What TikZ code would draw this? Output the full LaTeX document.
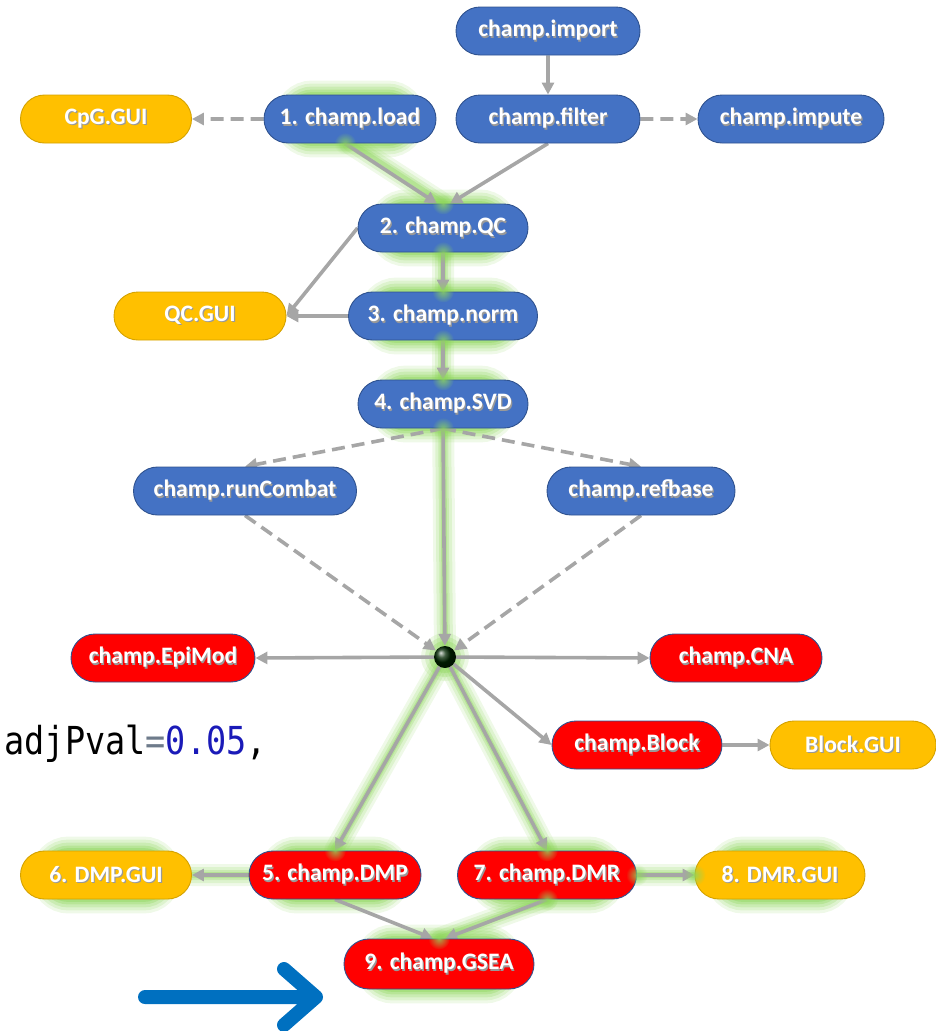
\documentclass[tikz,border=0pt]{standalone}
\usepackage{fontspec}
\setmainfont{Carlito}
\newfontfamily\codefont{DejaVu Sans Mono}
\usetikzlibrary{arrows.meta,shapes.misc,fadings}

\definecolor{nodeblue}{HTML}{4472C4}
\definecolor{blueedge}{HTML}{2F528F}
\definecolor{nodegold}{HTML}{FFC000}
\definecolor{goldedge}{HTML}{D4A200}
\definecolor{nodered}{HTML}{FF0000}
\definecolor{linkgray}{HTML}{A6A6A6}
\definecolor{glowgreen}{HTML}{8ED65C}
\definecolor{pointer}{HTML}{0070C0}
\definecolor{codeblue}{HTML}{1A1AB8}
\definecolor{codegray}{HTML}{6E7B8B}

\tikzfading[name=spotfade, inner color=transparent!0, outer color=transparent!100]

\pgfdeclarelayer{glow}
\pgfdeclarelayer{links}
\pgfdeclarelayer{spots}
\pgfsetlayers{glow,links,main,spots}

% white label with a soft drop shadow
\newcommand\shtxt[1]{\leavevmode\rlap{\kern1.2pt\raisebox{-1.2pt}{\color{black!40}#1}}{\color{white}#1}}

% green halo around a node
\newcommand\glowbox[1]{%
  \foreach \w/\o in {28/0.14,22/0.18,16/0.24,10/0.32,5/0.4}{%
    \draw[glowgreen, line width=\w pt, opacity=\o, rounded corners=24pt]
      (#1.south west) rectangle (#1.north east);}}
% green halo along a link
\newcommand\glowline[2]{%
  \foreach \w/\o in {22/0.14,16/0.18,10/0.26,6/0.34}{%
    \draw[glowgreen, line width=\w pt, opacity=\o, line cap=round] (#1) -- (#2);}}
% soft green spot where a glowing link meets a node
\newcommand\glowspot[1]{\fill[glowgreen, opacity=0.8, path fading=spotfade] (#1) circle (11pt);}

\tikzset{
  pill/.style={rounded rectangle, minimum height=48pt, inner xsep=0pt,
    font=\bfseries\fontsize{23.6}{25}\selectfont, line width=0.9pt},
  bluepill/.style={pill, fill=nodeblue, draw=blueedge},
  goldpill/.style={pill, fill=nodegold, draw=goldedge},
  redpill/.style={pill, fill=nodered, draw=blueedge},
  link/.style={draw=linkgray, line width=3.6pt, -{Triangle[length=12pt,width=12pt]}},
  dashedlink/.style={link, dash pattern=on 13pt off 7pt},
}

\begin{document}
\begin{tikzpicture}[x=1pt, y=-1pt]
\useasboundingbox (0,0) rectangle (936,1031);

% ---- nodes ----
\node[bluepill, minimum width=184pt] (import) at (548,31) {\shtxt{champ.import}};
\node[goldpill, minimum width=171pt] (cpggui) at (106,119) {\shtxt{CpG.GUI}};
\node[bluepill, minimum width=172pt] (load) at (350,119) {\shtxt{1. champ.load}};
\node[bluepill, minimum width=184pt] (filter) at (548,119) {\shtxt{champ.filter}};
\node[bluepill, minimum width=186pt] (impute) at (791,119) {\shtxt{champ.impute}};
\node[bluepill, minimum width=170pt] (qc) at (443,228) {\shtxt{2. champ.QC}};
\node[goldpill, minimum width=172pt] (qcgui) at (200,316) {\shtxt{QC.GUI}};
\node[bluepill, minimum width=189pt] (norm) at (443,316) {\shtxt{3. champ.norm}};
\node[bluepill, minimum width=170pt] (svd) at (443,404) {\shtxt{4. champ.SVD}};
\node[bluepill, minimum width=223pt] (combat) at (245,491) {\shtxt{champ.runCombat}};
\node[bluepill, minimum width=188pt] (refbase) at (641,491) {\shtxt{champ.refbase}};
\node[circle, minimum size=22pt, inner sep=0pt, shading=ball, ball color=black!75!green!60!black] (hub) at (445,657) {};
\node[redpill, minimum width=184pt] (epimod) at (163,658) {\shtxt{champ.EpiMod}};
\node[redpill, minimum width=172pt] (cna) at (736,658) {\shtxt{champ.CNA}};
\node[redpill, minimum width=170pt] (block) at (637,745) {\shtxt{champ.Block}};
\node[goldpill, minimum width=166pt] (blockgui) at (853,745) {\shtxt{Block.GUI}};
\node[goldpill, minimum width=171pt] (dmpgui) at (106,875) {\shtxt{6. DMP.GUI}};
\node[redpill, minimum width=172pt] (dmp) at (335,875) {\shtxt{5. champ.DMP}};
\node[redpill, minimum width=179pt] (dmr) at (547,875) {\shtxt{7. champ.DMR}};
\node[goldpill, minimum width=170pt] (dmrgui) at (780,875) {\shtxt{8. DMR.GUI}};
\node[redpill, minimum width=190pt, minimum height=50pt] (gsea) at (439,964) {\shtxt{9. champ.GSEA}};

% code fragment on the left
\node[anchor=base east, inner sep=0pt, font=\codefont\fontsize{33.5}{37}\selectfont] (code) at (267,754)
  {\scalebox{1}[1.15]{adjPval{\color{codegray}=}{\color{codeblue}0.05},}};

% ---- halo along the main path ----
\begin{pgfonlayer}{glow}
  \foreach \n in {load,qc,norm,svd,dmp,dmpgui,dmr,dmrgui,gsea}{\glowbox{\n}}
  \foreach \w/\o in {26/0.16,18/0.22,10/0.32}{\fill[glowgreen, opacity=\o] (hub) circle ({11+\w/2});}
  \glowline{load.south}{qc.north}
  \glowline{qc}{norm}
  \glowline{norm}{svd}
  \glowline{svd}{hub}
  \glowline{hub}{dmp.north}
  \glowline{hub}{dmr.north}
  \glowline{dmr.south}{gsea.north}
  \glowline{dmp}{dmpgui}
  \glowline{dmr}{dmrgui}
\end{pgfonlayer}

% green spots where the glowing path enters and leaves a node
\begin{pgfonlayer}{spots}
  \glowspot{[xshift=-5pt]load.south}
  \glowspot{qc.north} \glowspot{qc.south}
  \glowspot{norm.north} \glowspot{norm.south}
  \glowspot{svd.north} \glowspot{svd.south}
  \glowspot{dmp.north} \glowspot{dmr.north} \glowspot{dmr.south}
  \glowspot{dmr.east} \glowspot{dmrgui.west}
  \glowspot{gsea.north}
\end{pgfonlayer}

% ---- links ----
\begin{pgfonlayer}{links}
  \draw[link] (import) -- (filter);
  \draw[dashedlink] (load) -- (cpggui);
  \draw[dashedlink] (filter) -- (impute);
  \draw[link] ([xshift=-5pt]load.south) -- ([xshift=-6pt]qc.north);
  \draw[link] (filter.south) -- ([xshift=7pt]qc.north);
  \draw[link] (qc.west) -- (qcgui.east);
  \draw[link] (norm.west) -- (qcgui.east);
  \draw[link] (qc) -- (norm);
  \draw[link] (norm) -- (svd);
  \draw[dashedlink] (svd.south) -- (combat.north);
  \draw[dashedlink] (svd.south) -- (refbase.north);
  \draw[link] (svd.south) -- (hub);
  \draw[dashedlink] (combat.south) -- (hub);
  \draw[dashedlink] (refbase.south) -- (hub);
  \draw[link] (hub) -- (epimod.east);
  \draw[link] (hub) -- (cna.west);
  \draw[link] (hub) -- (block.west);
  \draw[link] (hub) -- (dmp.north);
  \draw[link] (hub) -- (dmr.north);
  \draw[link] (block) -- (blockgui);
  \draw[link] (dmp) -- (dmpgui);
  \draw[link] (dmr) -- (dmrgui);
  \draw[link] (dmp.south) -- ([xshift=-6pt]gsea.north);
  \draw[link] (dmr.south) -- ([xshift=6pt]gsea.north);
\end{pgfonlayer}

% ---- pointer arrow ----
\coordinate (ptail) at (145,997);
\coordinate (ptip) at (316,997);
\draw[pointer, line width=14pt, line cap=round, line join=round]
  (ptail) -- (ptip) (284,969) -- (ptip) -- (284,1025);
\end{tikzpicture}
\end{document}
